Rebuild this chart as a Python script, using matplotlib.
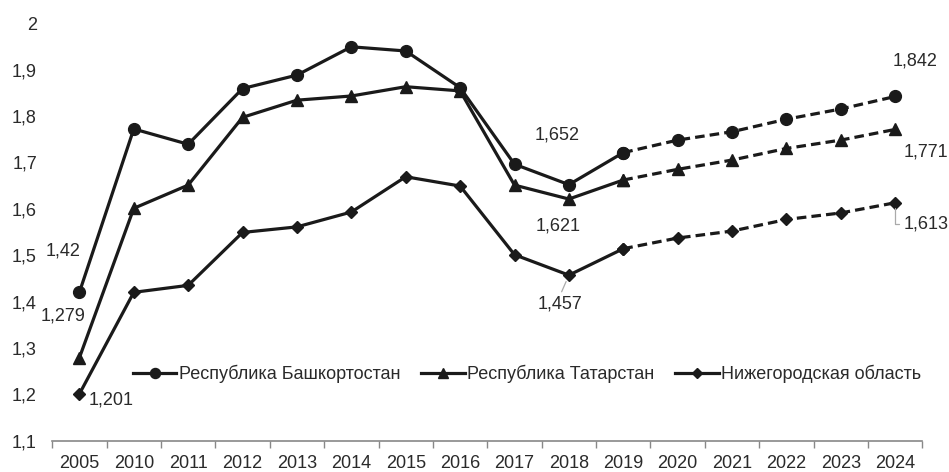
import numpy as np
import matplotlib.pyplot as plt

plt.rcParams['font.family'] = ['Liberation Sans', 'DejaVu Sans']

# Данные
years = ['2005', '2010', '2011', '2012', '2013', '2014', '2015', '2016',
         '2017', '2018', '2019', '2020', '2021', '2022', '2023', '2024']
bashkortostan = [1.42, 1.772, 1.739, 1.859, 1.888, 1.949, 1.940, 1.861,
                 1.696, 1.652, 1.721, 1.748, 1.766, 1.793, 1.815, 1.842]
tatarstan = [1.279, 1.601, 1.651, 1.797, 1.834, 1.843, 1.863, 1.854,
             1.651, 1.621, 1.662, 1.685, 1.705, 1.730, 1.748, 1.771]
nizhny = [1.201, 1.420, 1.435, 1.549, 1.561, 1.593, 1.669, 1.649,
          1.501, 1.457, 1.514, 1.537, 1.552, 1.577, 1.591, 1.613]
names = ['Республика Башкортостан', 'Республика Татарстан', 'Нижегородская область']
y_ticks = [1.1, 1.2, 1.3, 1.4, 1.5, 1.6, 1.7, 1.8, 1.9, 2.0]

forecast_start = years.index('2019')
x = np.arange(len(years))
col = '#1a1a1a'
tcol = '#2a2a2a'

fig = plt.figure(figsize=(9.49, 4.72), dpi=100)
ax = fig.add_axes([0.055, 0.066, 0.917, 0.885])

series = [(bashkortostan, 'o', 8.5), (tatarstan, '^', 8.5), (nizhny, 'D', 6.5)]
for (vals, mk, ms), name in zip(series, names):
    v = np.array(vals)
    ax.plot(x[:forecast_start + 1], v[:forecast_start + 1], color=col, lw=2.3,
            marker=mk, ms=ms, label=name)
    ax.plot(x[forecast_start:], v[forecast_start:], color=col, lw=2.3,
            ls=(0, (3, 1.6)), marker=mk, ms=ms)

# Подписи значений
fs = 13
txt_kw = dict(fontsize=fs, color=tcol, ha='center', va='center',
              textcoords='offset points')
ax.annotate('1,42', (0, bashkortostan[0]), xytext=(-12, 30), **txt_kw)
ax.annotate('1,279', (0, tatarstan[0]), xytext=(-12, 30), **txt_kw)
ax.annotate('1,201', (0, nizhny[0]), xytext=(23, -4.5), **txt_kw)
ax.annotate('1,652', (9, bashkortostan[9]), xytext=(-8.5, 35.5), **txt_kw)
ax.annotate('1,621', (9, tatarstan[9]), xytext=(-8, -19.5), **txt_kw)
ax.annotate('1,457', (9, nizhny[9]), xytext=(-6.5, -21), **txt_kw,
            arrowprops=dict(arrowstyle='-', color='#aaaaaa', lw=0.9,
                            relpos=(0.5, 1.0), shrinkA=1, shrinkB=5))
ax.annotate('1,842', (15, bashkortostan[15]), xytext=(14.5, 25.5), **txt_kw)
ax.annotate('1,771', (15, tatarstan[15]), xytext=(22, -16.5), **txt_kw)
ax.annotate('1,613', (15, nizhny[15]), xytext=(22, -15), **txt_kw,
            arrowprops=dict(arrowstyle='-', color='#aaaaaa', lw=0.9,
                            connectionstyle='angle,angleA=0,angleB=90,rad=0',
                            relpos=(0.0, 0.5), shrinkA=1, shrinkB=4))

ax.set_xlim(-0.5, len(years) - 0.5)
ax.set_ylim(1.1, 2.0)
ax.set_yticks(y_ticks)
ax.set_yticklabels([('%g' % t).replace('.', ',') for t in y_ticks], fontsize=fs, color=tcol)
ax.tick_params(axis='y', length=0, pad=11)

ax.set_xticks(np.arange(-0.5, len(years), 1.0))
ax.set_xticklabels([])
ax.set_xticks(x, minor=True)
ax.set_xticklabels(years, minor=True, fontsize=fs, color=tcol)
ax.tick_params(axis='x', which='major', length=5, color='#888888', width=1)
ax.tick_params(axis='x', which='minor', length=0, pad=10)

for s in ['top', 'right', 'left']:
    ax.spines[s].set_visible(False)
ax.spines['bottom'].set_color('#888888')
ax.spines['bottom'].set_linewidth(1.2)

leg = ax.legend(loc='center', bbox_to_anchor=(0.546, 0.16), ncol=3, frameon=False,
                fontsize=fs, handlelength=2.4, handletextpad=0.15,
                columnspacing=1.15, markerscale=0.85)
for t in leg.get_texts():
    t.set_color(tcol)

fig.savefig('out.png', dpi=100)
